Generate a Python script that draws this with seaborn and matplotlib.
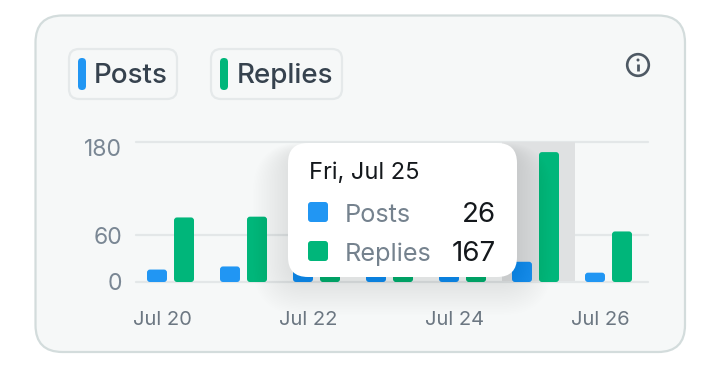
import numpy as np
import pandas as pd
import matplotlib
matplotlib.use("Agg")
import matplotlib.pyplot as plt
import matplotlib.transforms as mtrans
from matplotlib.patches import FancyBboxPatch, Circle
import seaborn as sns

days = ["Jul 20", "Jul 21", "Jul 22", "Jul 23", "Jul 24", "Jul 25", "Jul 26"]
posts = [16, 20, 15, 12, 13, 26, 12]
replies = [83, 84, 14, 12, 13, 167, 65]
y_ticks = [0, 60, 180]
x_tick_days = [0, 2, 4, 6]
tooltip_title = "Fri, Jul 25"

BLUE = "#2196F3"
GREEN = "#00B67A"

df = pd.DataFrame({"day": days * 2, "count": posts + replies,
                   "series": ["Posts"] * 7 + ["Replies"] * 7})

sns.set_theme(style="white")
plt.rcParams["font.family"] = ["Inter", "DejaVu Sans"]

W, H = 719, 370
fig = plt.figure(figsize=(W / 100, H / 100), dpi=100, facecolor="white")


def px_axes(x0, y0, x1, y1, z):
    return fig.add_axes([x0 / W, 1 - y1 / H, (x1 - x0) / W, (y1 - y0) / H], zorder=z)


def rbox(ax, x0, y0, x1, y1, r, **kw):
    p = FancyBboxPatch((x0 + r, y0 + r), x1 - x0 - 2 * r, y1 - y0 - 2 * r,
                       boxstyle=f"round,pad={r},rounding_size={r}", **kw)
    ax.add_patch(p)
    return p


# card behind the chart
bg = px_axes(0, 0, W, H, 0)
bg.set_xlim(0, W)
bg.set_ylim(H, 0)
bg.axis("off")
rbox(bg, 35.5, 15.5, 685, 352, 27, fc="#F6F8F8", ec="#D3DCDC", lw=1.6)

# legend chips
for x0, x1, c, name, tx in [(69, 177, BLUE, "Posts", 94), (211, 342, GREEN, "Replies", 237)]:
    rbox(bg, x0, 49, x1, 99, 10, fc="#F6F8F8", ec="#E5E9EA", lw=1.6)
    rbox(bg, x0 + 9, 58, x0 + 17, 90, 4, fc=c, ec="none")
    bg.text(tx, 76, name, fontsize=20, fontweight=500, color="#36424E", va="center", ha="left")

# info icon
bg.add_patch(Circle((638, 65), 10.8, fc="none", ec="#4E5964", lw=1.9))
bg.add_patch(Circle((638, 60), 1.5, fc="#4E5964", ec="none"))
bg.plot([638, 638], [64, 71], color="#4E5964", lw=2, solid_capstyle="butt")

# chart
ax = px_axes(136, 142, 648, 282, 1)
ax.patch.set_alpha(0)
sns.barplot(data=df, x="day", y="count", hue="series", hue_order=["Posts", "Replies"],
            palette=[BLUE, GREEN], width=0.74, gap=0.26, saturation=1, legend=False, ax=ax, zorder=3)

left = -(170.5 - 136) / 73
ax.set_xlim(left, left + 512 / 73)
ax.set_ylim(0, 180)
ax.axvspan(4.54, 5.54, color="#DFE1E2", lw=0, zorder=1)

# swap seaborn's square bars for rounded ones at the same spot
aspect = (512 / 7.014) / (140 / 180)
r = 3 / 73
for b in list(ax.patches):
    if b.get_height() <= 0 or b.get_width() > 0.9:
        continue
    bx, bw, bh = b.get_x(), b.get_width(), b.get_height()
    ax.add_patch(FancyBboxPatch((bx + r, r * aspect), bw - 2 * r, bh - 2 * r * aspect,
                                boxstyle=f"round,pad={r},rounding_size={r}",
                                mutation_aspect=aspect, fc=b.get_facecolor(), ec="none",
                                zorder=3, clip_on=False))
    b.set_visible(False)

for s in ax.spines.values():
    s.set_visible(False)
ax.set_xlabel("")
ax.set_ylabel("")
ax.set_yticks(y_ticks)
ax.set_yticklabels([str(v) for v in y_ticks])
ax.set_xticks(x_tick_days)
ax.set_xticklabels([days[i] for i in x_tick_days])
ax.tick_params(axis="both", length=0)
ax.tick_params(axis="y", labelsize=16.5, labelcolor="#7A8794", pad=10)
ax.tick_params(axis="x", labelsize=14.5, labelcolor="#6C7782", pad=21)
for v in y_ticks:
    ax.axhline(v, color="#E3E7E8", lw=1.6, zorder=0 if v else 2, clip_on=False)

for lab in ax.get_xticklabels():
    lab.set_transform(lab.get_transform() + mtrans.Affine2D().translate(-8, 0))
for lab, v in zip(ax.get_yticklabels(), y_ticks):
    dy = -6 if v == 180 else 0
    lab.set_transform(lab.get_transform() + mtrans.Affine2D().translate(0, dy))

# tooltip on top
top = px_axes(0, 0, W, H, 2)
top.patch.set_alpha(0)
top.set_xlim(0, W)
top.set_ylim(H, 0)
top.axis("off")
for g in range(44, 0, -2):
    rbox(top, 288 - g * 0.8, 143 - g * 0.2 + 8, 517 + g * 0.8, 277 + g * 0.8 + 3, 20 + g * 0.7,
         fc="black", ec="none", alpha=0.0032)
rbox(top, 288, 143, 517, 277, 20, fc="white", ec="none")
top.text(309, 173, tooltip_title, fontsize=17, color="#14181C", va="center", ha="left")
for y, c, name, val in [(212, BLUE, "Posts", posts[5]), (251, GREEN, "Replies", replies[5])]:
    rbox(top, 308, y - 10, 328, y + 10, 3, fc=c, ec="none")
    top.text(345, y + 3, name, fontsize=18.2, color="#75828E", va="center", ha="left")
    top.text(496, y + 3, str(val), fontsize=20, color="#14181C", va="center", ha="right")

fig.savefig("out.png", dpi=100, facecolor="white")
